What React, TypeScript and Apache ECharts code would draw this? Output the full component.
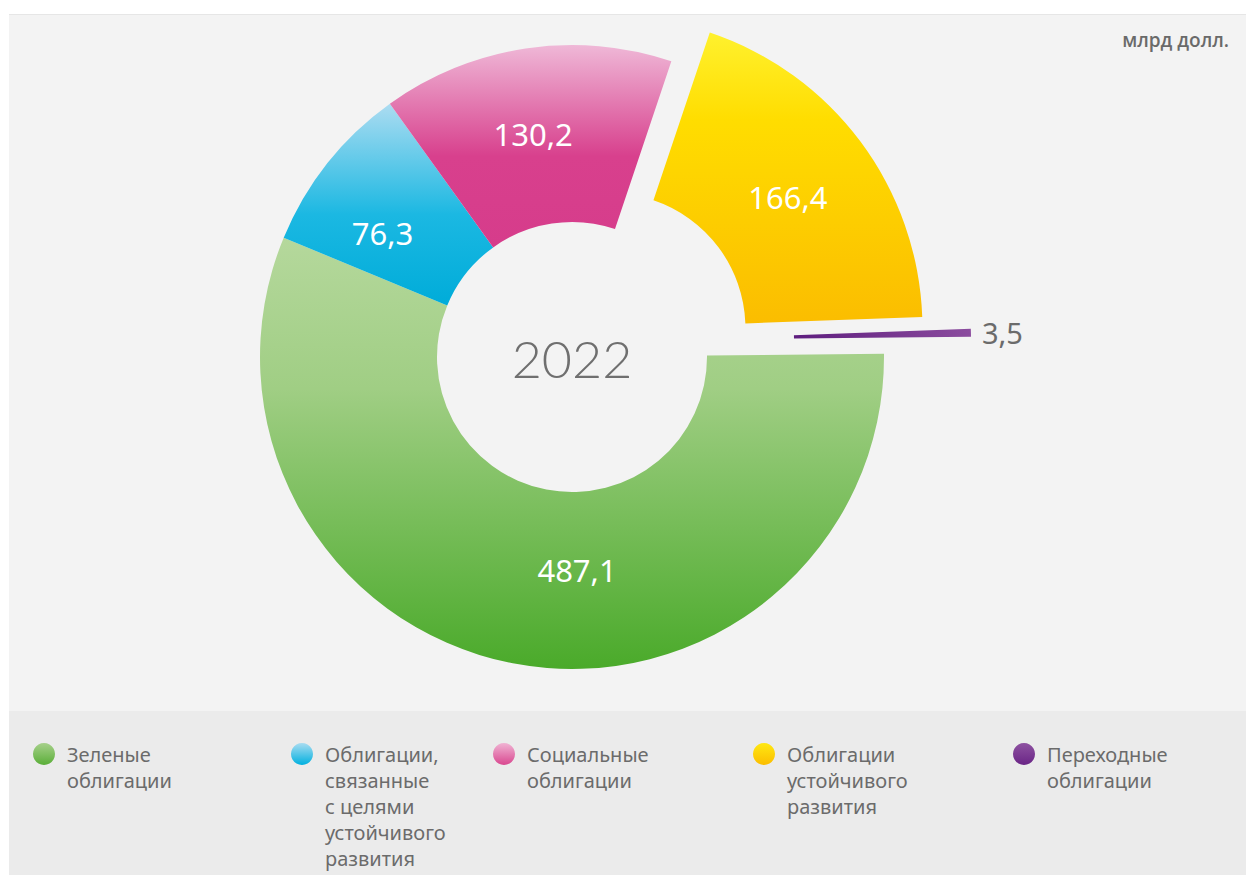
import React, { useEffect, useRef } from "react";
import * as echarts from "echarts";

const categories = [
  "Зеленые облигации",
  "Облигации, связанные с целями устойчивого развития",
  "Социальные облигации",
  "Облигации устойчивого развития",
  "Переходные облигации",
];
const legendLabels = [
  "Зеленые\nоблигации",
  "Облигации,\nсвязанные\nс целями\nустойчивого\nразвития",
  "Социальные\nоблигации",
  "Облигации\nустойчивого\nразвития",
  "Переходные\nоблигации",
];
const values = [487.1, 76.3, 130.2, 166.4, 3.5];
const yearLabel = "2022";
const unitLabel = "млрд долл.";

const FONT = "'Noto Sans', 'DejaVu Sans', sans-serif";

function vGrad(stops: [number, string][]) {
  return new echarts.graphic.LinearGradient(
    0, 0, 0, 1,
    stops.map(([offset, color]) => ({ offset, color }))
  );
}
function hGrad(stops: [number, string][]) {
  return new echarts.graphic.LinearGradient(
    0, 0, 1, 0,
    stops.map(([offset, color]) => ({ offset, color }))
  );
}

export default function App() {
  const ref = useRef<HTMLDivElement>(null);

  useEffect(() => {
    if (!ref.current) return;
    const chart = echarts.init(ref.current, undefined, { renderer: "svg" });

    const sliceFills = [
      vGrad([[0, "#b5d89c"], [0.35, "#a0ce84"], [1, "#4aaa2a"]]),
      vGrad([[0, "#acdcf1"], [0.55, "#1bb8e2"], [1, "#00acd9"]]),
      vGrad([[0, "#efb8d7"], [0.55, "#d8408d"], [1, "#d63c8b"]]),
      vGrad([[0, "#fff12e"], [0.3, "#ffdd00"], [1, "#fbbd00"]]),
      hGrad([[0, "#5e1d7e"], [1, "#8b4c9e"]]),
    ];
    const legendFills = [
      vGrad([[0, "#a6d08a"], [1, "#5aae38"]]),
      vGrad([[0, "#a8dcf1"], [1, "#00b0df"]]),
      vGrad([[0, "#f0b3d3"], [1, "#d9478f"]]),
      vGrad([[0, "#ffe812"], [1, "#fbbd00"]]),
      vGrad([[0, "#8e52a1"], [1, "#6a2586"]]),
    ];
    const labelShift = [
      { dx: 48, dy: -9 },
      { dx: -12, dy: 17 },
      { dx: -5, dy: 1 },
      { dx: -4, dy: 4 },
      { dx: 0, dy: 0 },
    ];
    const fmt = (p: any) => String(p.value).replace(".", ",");
    const legendLefts = [33, 291, 493, 753, 1013];
    const LH = 26;

    const option: any = {
      animation: false,
      graphic: [
        { type: "rect", z: -10, silent: true, shape: { x: 0, y: 0, width: 1246, height: 15 }, style: { fill: "#ffffff" } },
        { type: "rect", z: -10, silent: true, shape: { x: 9, y: 14, width: 1237, height: 1 }, style: { fill: "#e6e6e6" } },
        { type: "rect", z: -10, silent: true, shape: { x: 9, y: 15, width: 1237, height: 696 }, style: { fill: "#f3f3f3" } },
        { type: "rect", z: -10, silent: true, shape: { x: 9, y: 711, width: 1237, height: 164 }, style: { fill: "#ebebeb" } },
        {
          type: "text", z: 100, silent: true, x: 572, y: 358,
          style: { text: yearLabel, fill: "#6f6f6f", font: `300 52px 'Lato', ${FONT}`, textAlign: "center", textVerticalAlign: "middle" },
        },
        {
          type: "text", z: 100, silent: true, x: 1229, y: 40,
          style: { text: unitLabel, fill: "#6a6a6a", font: `600 19px 'Open Sans', ${FONT}`, textAlign: "right", textVerticalAlign: "middle" },
        },
      ],
      legend: categories.map((name, i) => {
        const n = legendLabels[i].split("\n").length;
        return {
          data: [{ name, itemStyle: { color: legendFills[i] } }],
          left: legendLefts[i],
          top: 741 - (n - 1) * LH,
          orient: "vertical",
          padding: 0,
          itemWidth: 22,
          itemHeight: 22,
          itemGap: 0,
          icon: "circle",
          selectedMode: false,
          // leading blank lines keep the first text line level with the icon
          formatter: () => "\n".repeat(n - 1) + legendLabels[i],
          textStyle: {
            fontSize: 20,
            lineHeight: LH,
            color: "#6b6b6b",
            fontFamily: FONT,
            padding: [0, 0, 0, 7],
          },
        };
      }),
      series: [
        {
          type: "pie",
          center: [572, 357],
          radius: [135, 312],
          startAngle: 0.6,
          clockwise: true,
          selectedMode: "single",
          selectedOffset: 48,
          avoidLabelOverlap: false,
          emphasis: { scale: false },
          label: {
            show: true,
            position: "inside",
            color: "#ffffff",
            fontSize: 31,
            fontFamily: FONT,
            formatter: fmt,
          },
          labelLine: { show: false },
          labelLayout: (p: any) => labelShift[p.dataIndex],
          data: values.map((v, i) => ({
            name: categories[i],
            value: v,
            selected: i === 3,
            itemStyle: { color: i === 4 ? "transparent" : sliceFills[i] },
            label: { show: i !== 4 },
          })),
        },
        {
          type: "pie",
          center: [659, 340],
          radius: [135, 312],
          startAngle: 0.6,
          clockwise: true,
          silent: true,
          avoidLabelOverlap: false,
          label: { show: false },
          labelLine: { show: false, length: 6, length2: 0 },
          data: values.map((v, i) => ({
            name: categories[i],
            value: v,
            itemStyle: { color: i === 4 ? sliceFills[4] : "transparent" },
            label:
              i === 4
                ? { show: true, position: "outside", color: "#6b6b6b", fontSize: 29, fontFamily: FONT, formatter: fmt }
                : { show: false },
          })),
        },
      ],
    };

    chart.setOption(option);
    return () => chart.dispose();
  }, []);

  return (
    <div
      ref={ref}
      style={{ position: "fixed", left: 0, top: 0, width: 1246, height: 875, background: "#ffffff" }}
    />
  );
}
